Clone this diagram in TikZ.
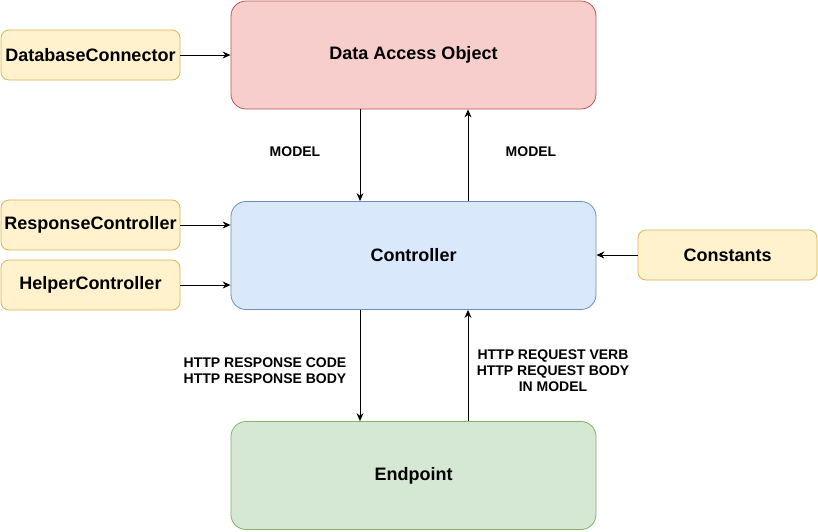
\documentclass[tikz,border=0pt]{standalone}
\usepackage{fontspec}
\setmainfont{Liberation Sans}
\usetikzlibrary{arrows.meta}
\definecolor{daofill}{HTML}{F8CECC}
\definecolor{daoline}{HTML}{B85450}
\definecolor{ctrlfill}{HTML}{DAE8FC}
\definecolor{ctrlline}{HTML}{6C8EBF}
\definecolor{endfill}{HTML}{D5E8D4}
\definecolor{endline}{HTML}{82B366}
\definecolor{helpfill}{HTML}{FFF2CC}
\definecolor{helpline}{HTML}{D6B656}

\begin{document}
\begin{tikzpicture}[x=1pt,y=-1pt]
	\tikzstyle{layer} = [rectangle,rounded corners=15pt,line width=0.8pt,minimum width=365pt,minimum height=108pt,font=\fontsize{18}{21}\selectfont\bfseries]
	\tikzstyle{helper} = [rectangle,rounded corners=8pt,line width=0.8pt,fill=helpfill,draw=helpline,minimum width=179pt,minimum height=50pt,font=\fontsize{18}{21}\selectfont\bfseries]
	\tikzstyle{edge} = [-{Stealth[length=8pt,width=7pt]},line width=0.9pt,draw=black]
	\tikzstyle{tag} = [font=\fontsize{14}{16}\selectfont\bfseries,align=center]
	\useasboundingbox (0,0) rectangle (818,531);
	\node[layer,fill=daofill,draw=daoline] (dao) at (413.5,55) {Data Access Object};
	\node[layer,fill=ctrlfill,draw=ctrlline] (ctrl) at (413.5,255.5) {Controller};
	\node[layer,fill=endfill,draw=endline] (endp) at (413.5,475.5) {Endpoint};
	\node[helper] (dbconn) at (90.5,55) {DatabaseConnector};
	\node[helper] (respctrl) at (90.5,225) {ResponseController};
	\node[helper] (helpctrl) at (90.5,285) {HelperController};
	\node[helper] (consts) at (727.5,255) {Constants};

	\draw[edge] (dbconn)--(dbconn -| dao.west);
	\draw[edge] (respctrl)--(respctrl -| ctrl.west);
	\draw[edge] (helpctrl)--(helpctrl -| ctrl.west);
	\draw[edge] (consts)--(consts -| ctrl.east);
	\draw[edge] ([xshift=-53.5pt]dao.south)--([xshift=-53.5pt]ctrl.north);
	\draw[edge] ([xshift=54.5pt]ctrl.north)--([xshift=54.5pt]dao.south);
	\draw[edge] ([xshift=-53.5pt]ctrl.south)--([xshift=-53.5pt]endp.north);
	\draw[edge] ([xshift=54.5pt]endp.north)--([xshift=54.5pt]ctrl.south);

	\node[tag] (mdown) at (295,152) {MODEL};
	\node[tag] (mup) at (531,152) {MODEL};
	\node[tag] (resp) at (265,371) {HTTP RESPONSE CODE\\HTTP RESPONSE BODY};
	\node[tag] (req) at (553,371) {HTTP REQUEST VERB\\HTTP REQUEST BODY\\IN MODEL};
\end{tikzpicture}
\end{document}
